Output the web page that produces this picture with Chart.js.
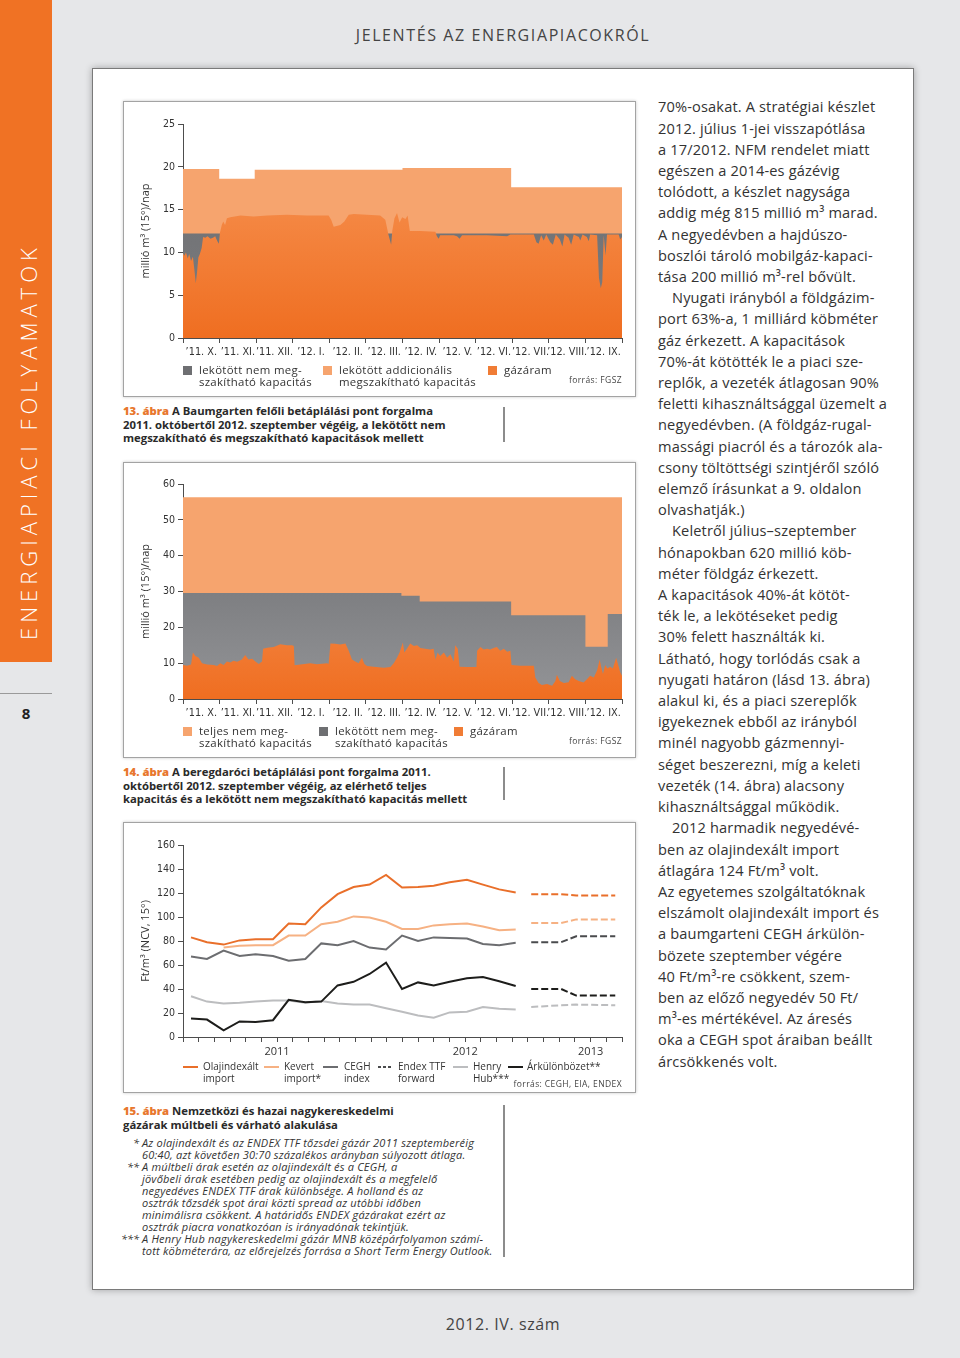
<!DOCTYPE html>
<html><head><meta charset="utf-8">
<script src="https://cdn.jsdelivr.net/npm/chart.js@4.4.1/dist/chart.umd.min.js"></script>
<style>
html,body{margin:0;padding:0;}
body{width:960px;height:1358px;position:relative;overflow:hidden;background:#e6e7e9;font-family:'Open Sans','Noto Sans',sans-serif;color:#333;}
.a{position:absolute;}
.box{position:absolute;box-sizing:border-box;border:1px solid #a3a3a3;background:#fff;box-shadow:0 0 3px rgba(0,0,0,.22);}
.lg{position:absolute;font-size:11.4px;letter-spacing:.3px;line-height:11.5px;color:#333;white-space:nowrap;}
.lg2{position:absolute;font-size:10px;line-height:11.5px;color:#333;white-space:nowrap;}
.sq{position:absolute;width:9px;height:9px;}
.src{position:absolute;font-size:8.5px;letter-spacing:.4px;color:#444;white-space:nowrap;text-align:right;}
.cap{position:absolute;left:123px;font-size:11.3px;font-weight:700;line-height:13.6px;color:#2a2a2a;white-space:nowrap;}
.cap b{color:#e8772e;}
.vl{position:absolute;left:503px;width:1.5px;background:#8c8c8c;}
.fn{position:absolute;left:142px;font-size:11px;letter-spacing:.2px;font-style:italic;line-height:11.9px;color:#333;white-space:nowrap;}
.mk{position:absolute;left:-40px;width:37px;text-align:right;letter-spacing:0;}
.col{position:absolute;left:658px;top:96.4px;font-size:14.6px;letter-spacing:.15px;line-height:21.2px;color:#333;white-space:nowrap;}
.col .i{padding-left:14px;}
.ln{position:absolute;height:2px;width:15px;}
canvas{position:absolute;}
</style></head>
<body>
<div class="a" style="left:0;top:0;width:52px;height:662px;background:#f07224;"></div>
<div class="a" style="left:0;top:662px;width:600px;height:56px;line-height:56px;padding-left:22px;box-sizing:border-box;transform-origin:0 0;transform:rotate(-90deg);color:#fff;font-size:22px;font-weight:300;letter-spacing:5px;white-space:nowrap;">ENERGIAPIACI FOLYAMATOK</div>
<div class="a" style="left:0;top:693px;width:52px;height:1px;background:#9a9a9a;"></div>
<div class="a" style="left:0;top:703px;width:52px;text-align:center;font-size:15px;font-weight:700;color:#222;">8</div>
<div class="a" style="left:92px;top:24px;width:822px;text-align:center;font-size:16px;letter-spacing:1.6px;color:#444;">JELENTÉS AZ ENERGIAPIACOKRÓL</div>
<div class="a" style="left:92px;top:1313px;width:822px;text-align:center;font-size:16px;letter-spacing:.6px;color:#444;">2012. IV. szám</div>

<div class="a" style="left:92px;top:68px;width:822px;height:1222px;box-sizing:border-box;background:#fff;border:1px solid #7a7a7a;box-shadow:0 0 7px rgba(0,0,0,.3);"></div>

<div class="box" style="left:123px;top:101px;width:513px;height:296px;"></div>
<div class="box" style="left:123px;top:462px;width:513px;height:296px;"></div>
<div class="box" style="left:123px;top:822px;width:513px;height:271px;"></div>

<canvas id="c13" width="513" height="265" style="left:123px;top:101px;width:513px;height:265px;"></canvas>
<canvas id="c14" width="513" height="265" style="left:123px;top:462px;width:513px;height:265px;"></canvas>
<canvas id="c15" width="513" height="243" style="left:123px;top:822px;width:513px;height:243px;"></canvas>

<!-- legend 13 -->
<div class="sq" style="left:183px;top:366px;background:#6e6f72;"></div>
<div class="lg" style="left:199px;top:364px;">lekötött nem meg-<br>szakítható kapacitás</div>
<div class="sq" style="left:323px;top:366px;background:#f6a46e;"></div>
<div class="lg" style="left:339px;top:364px;">lekötött addicionális<br>megszakítható kapacitás</div>
<div class="sq" style="left:488px;top:366px;background:#f07c35;"></div>
<div class="lg" style="left:504px;top:364px;">gázáram</div>
<div class="src" style="left:500px;width:122px;top:374px;">forrás: FGSZ</div>

<!-- legend 14 -->
<div class="sq" style="left:183px;top:727px;background:#f6a46e;"></div>
<div class="lg" style="left:199px;top:725px;">teljes nem meg-<br>szakítható kapacitás</div>
<div class="sq" style="left:319px;top:727px;background:#6e6f72;"></div>
<div class="lg" style="left:335px;top:725px;">lekötött nem meg-<br>szakítható kapacitás</div>
<div class="sq" style="left:454px;top:727px;background:#f07c35;"></div>
<div class="lg" style="left:470px;top:725px;">gázáram</div>
<div class="src" style="left:500px;width:122px;top:735px;">forrás: FGSZ</div>

<!-- legend 15 -->
<div class="ln" style="left:183px;top:1066px;background:#e96f2a;"></div>
<div class="lg2" style="left:203px;top:1061px;">Olajindexált<br>import</div>
<div class="ln" style="left:264px;top:1066px;background:#f6b183;"></div>
<div class="lg2" style="left:284px;top:1061px;">Kevert<br>import*</div>
<div class="ln" style="left:323px;top:1066px;background:#6c6d70;"></div>
<div class="lg2" style="left:344px;top:1061px;">CEGH<br>index</div>
<div class="ln" style="left:378px;top:1066px;background:repeating-linear-gradient(90deg,#4a4b4d 0 3px,transparent 3px 5px);"></div>
<div class="lg2" style="left:398px;top:1061px;">Endex TTF<br>forward</div>
<div class="ln" style="left:453px;top:1066px;background:#bcbdbf;"></div>
<div class="lg2" style="left:473px;top:1061px;">Henry<br>Hub***</div>
<div class="ln" style="left:508px;top:1066px;background:#1d1d1b;"></div>
<div class="lg2" style="left:527px;top:1061px;">Árkülönbözet**</div>
<div class="src" style="left:450px;width:172px;top:1078px;">forrás: CEGH, EIA, ENDEX</div>

<!-- captions -->
<div class="cap" style="top:404px;"><b>13. ábra</b> A Baumgarten felőli betáplálási pont forgalma<br>2011. októbertől 2012. szeptember végéig, a lekötött nem<br>megszakítható és megszakítható kapacitások mellett</div>
<div class="vl" style="top:407px;height:35px;"></div>
<div class="cap" style="top:765px;"><b>14. ábra</b> A beregdaróci betáplálási pont forgalma 2011.<br>októbertől 2012. szeptember végéig, az elérhető teljes<br>kapacitás és a lekötött nem megszakítható kapacitás mellett</div>
<div class="vl" style="top:767px;height:33px;"></div>
<div class="cap" style="top:1104px;"><b>15. ábra</b> Nemzetközi és hazai nagykereskedelmi<br>gázárak múltbeli és várható alakulása</div>
<div class="vl" style="top:1105px;height:152px;"></div>

<div class="fn" style="top:1137px;"><span class="mk">*</span>Az olajindexált és az ENDEX TTF tőzsdei gázár 2011 szeptemberéig<br>60:40, azt követően 30:70 százalékos arányban súlyozott átlaga.</div>
<div class="fn" style="top:1161px;"><span class="mk">**</span>A múltbeli árak esetén az olajindexált és a CEGH, a<br>jövőbeli árak esetében pedig az olajindexált és a megfelelő<br>negyedéves ENDEX TTF árak különbsége. A holland és az<br>osztrák tőzsdék spot árai közti spread az utóbbi időben<br>minimálisra csökkent. A határidős ENDEX gázárakat ezért az<br>osztrák piacra vonatkozóan is irányadónak tekintjük.</div>
<div class="fn" style="top:1233px;"><span class="mk">***</span>A Henry Hub nagykereskedelmi gázár MNB középárfolyamon számí-<br>tott köbméterára, az előrejelzés forrása a Short Term Energy Outlook.</div>

<div class="col">
<div>70%-osakat. A stratégiai készlet</div>
<div>2012. július 1-jei visszapótlása</div>
<div>a 17/2012. NFM rendelet miatt</div>
<div>egészen a 2014-es gázévig</div>
<div>tolódott, a készlet nagysága</div>
<div>addig még 815 millió m³ marad.</div>
<div>A negyedévben a hajdúszo-</div>
<div>boszlói tároló mobilgáz-kapaci-</div>
<div>tása 200 millió m³-rel bővült.</div>
<div class="i">Nyugati irányból a földgázim-</div>
<div>port 63%-a, 1 milliárd köbméter</div>
<div>gáz érkezett. A kapacitások</div>
<div>70%-át kötötték le a piaci sze-</div>
<div>replők, a vezeték átlagosan 90%</div>
<div>feletti kihasználtsággal üzemelt a</div>
<div>negyedévben. (A földgáz-rugal-</div>
<div>massági piacról és a tározók ala-</div>
<div>csony töltöttségi szintjéről szóló</div>
<div>elemző írásunkat a 9. oldalon</div>
<div>olvashatják.)</div>
<div class="i">Keletről július–szeptember</div>
<div>hónapokban 620 millió köb-</div>
<div>méter földgáz érkezett.</div>
<div>A kapacitások 40%-át kötöt-</div>
<div>ték le, a lekötéseket pedig</div>
<div>30% felett használták ki.</div>
<div>Látható, hogy torlódás csak a</div>
<div>nyugati határon (lásd 13. ábra)</div>
<div>alakul ki, és a piaci szereplők</div>
<div>igyekeznek ebből az irányból</div>
<div>minél nagyobb gázmennyi-</div>
<div>séget beszerezni, míg a keleti</div>
<div>vezeték (14. ábra) alacsony</div>
<div>kihasználtsággal működik.</div>
<div class="i">2012 harmadik negyedévé-</div>
<div>ben az olajindexált import</div>
<div>átlagára 124 Ft/m³ volt.</div>
<div>Az egyetemes szolgáltatóknak</div>
<div>elszámolt olajindexált import és</div>
<div>a baumgarteni CEGH árkülön-</div>
<div>bözete szeptember végére</div>
<div>40 Ft/m³-re csökkent, szem-</div>
<div>ben az előző negyedév 50 Ft/</div>
<div>m³-es mértékével. Az áresés</div>
<div>oka a CEGH spot áraiban beállt</div>
<div>árcsökkenés volt.</div>
</div>

<script>
// ---------- DATA ----------
const monthLabels = ["’11. X.","’11. XI.","’11. XII.","’12. I.","’12. II.","’12. III.","’12. IV.","’12. V.","’12. VI.","’12. VII.","’12. VIII.","’12. IX."];

// Chart 13 – Baumgarten (x in months from 2011-10-01)
const baumTotalX = [0, 0.99, 1.96, 6.0, 8.97, 12];
const baumTotalY = [19.75, 18.6, 19.65, 19.85, 17.6, 17.6];
const baumFirmX = [0, 12];
const baumFirmY = [12.2, 12.2];
const baumFlowX = [0,0.04,0.08,0.13,0.17,0.22,0.27,0.31,0.35,0.38,0.42,0.46,0.51,0.55,0.61,0.67,0.75,0.82,0.88,0.94,0.98,1.01,1.06,1.10,1.15,1.20,1.29,1.57,1.93,2.30,2.84,3.39,3.98,4.05,4.12,4.30,4.41,4.53,4.67,5.03,5.39,5.53,5.62,5.69,5.72,5.78,5.85,5.92,5.99,6.08,6.14,6.20,6.49,6.90,6.94,6.99,7.03,7.40,7.49,7.56,7.63,8.31,8.86,8.95,9.59,9.66,9.72,9.79,9.86,9.93,10.04,10.11,10.19,10.30,10.37,10.43,10.54,10.61,10.68,10.82,10.86,10.92,11.04,11.09,11.13,11.32,11.37,11.42,11.46,11.50,11.55,11.59,11.91,11.95,12];
const baumFlowY = [9.9,9.6,10.0,9.3,9.8,9.0,9.5,8.0,6.4,7.5,9.4,9.8,10.5,11.8,11.7,11.9,11.6,11.7,11.9,11.3,11.0,12.3,13.2,13.6,13.2,14.0,14.1,14.3,14.2,14.3,14.4,14.3,14.3,13.8,13.0,13.2,13.6,14.4,14.5,14.4,14.3,13.8,12.0,10.9,12.5,14.0,14.6,13.5,14.1,13.9,14.3,12.5,12.5,12.4,11.9,11.6,12.0,12.0,11.9,11.6,12.0,12.0,11.9,12.1,12.1,11.2,11.0,12.0,11.4,12.1,11.2,10.9,12.1,11.5,10.7,12.1,11.7,10.9,12.1,11.8,11.4,12.1,11.8,11.3,12.1,12.0,7.0,5.8,6.5,12.0,9.6,12.1,12.1,11.5,11.8];

// Chart 14 – Beregdaróc
const beregTotalX = [0, 12];
const beregTotalY = [56.3, 56.3];
const beregFirmX = [0, 5.97, 6.47, 8.97, 11.0, 11.61, 12];
const beregFirmY = [29.6, 28.8, 27.2, 23.4, 14.6, 23.7, 23.7];
const beregFlowX = [0,0.11,0.22,0.27,0.34,0.43,0.52,0.66,0.84,0.93,1.02,1.11,1.20,1.29,1.38,1.48,1.61,1.70,1.79,1.89,1.98,2.07,2.16,2.19,2.30,2.48,2.66,2.84,2.98,3.03,3.05,3.21,3.48,3.66,3.94,3.98,4.03,4.16,4.30,4.44,4.53,4.62,4.71,4.80,4.89,4.96,5.03,5.21,5.49,5.67,5.76,5.85,5.92,6.01,6.05,6.12,6.21,6.31,6.40,6.49,6.62,6.76,6.85,6.90,6.96,7.03,7.13,7.22,7.31,7.40,7.44,7.51,7.56,7.76,8.02,8.04,8.13,8.22,8.31,8.40,8.49,8.58,8.67,8.77,8.86,8.95,8.98,9.22,9.59,9.63,9.72,9.81,9.95,10.09,10.18,10.22,10.30,10.41,10.54,10.63,10.72,10.82,10.95,11.04,11.13,11.23,11.32,11.39,11.43,11.48,11.54,11.60,11.68,11.75,11.84,11.91,11.95,12];
const beregFlowY = [9.5,9.3,9.6,13.0,12.0,11.5,10.0,9.6,9.5,9.2,10.0,9.5,10.5,10.2,10.7,10.4,11.0,12.3,11.0,11.2,10.5,9.8,10.5,14.0,14.3,14.5,15.3,15.0,15.0,14.8,9.4,9.6,10.0,9.7,10.0,9.8,15.5,15.4,15.2,15.5,13.5,11.0,10.5,10.0,11.5,9.8,9.2,9.0,8.7,8.9,10.0,11.5,13.0,15.8,13.0,14.0,15.5,14.8,15.0,14.2,14.0,13.8,14.0,11.0,13.0,12.0,13.0,11.5,12.5,10.5,15.0,14.0,9.0,8.9,8.9,13.5,14.5,13.8,14.0,13.8,14.2,14.5,13.5,14.0,13.2,13.5,9.5,9.3,9.3,6.0,4.5,3.9,4.2,3.7,5.0,6.8,5.0,4.5,4.7,6.5,5.5,5.0,4.6,5.5,6.5,6.0,8.0,11.0,9.0,7.0,9.5,8.5,9.0,8.5,11.5,9.0,7.5,6.5];

// Chart 15 – prices (x in months on the time axis)
const yearTicks = {6: '2011', 18: '2012', 26: '2013'};
const histX = [0.51,1.53,2.59,3.61,4.63,5.74,6.74,7.80,8.82,9.86,10.88,11.90,12.95,13.97,14.99,15.99,17.01,18.11,19.13,20.17,21.22];
const olajHist   = [83,79,77,80.5,81.5,81.5,94.5,94,108,119,125,127,135,124.5,125,126,129,131,127,123,120.5];
const kevertHist = [null,null,74.5,76,76.5,76.5,84.5,84.5,94,96,100.5,99.5,96,90,90,93,94,94.5,92,89,89.5];
const ceghHist   = [67,65,72,67.5,69,67.5,63.5,65,78,76.5,80,74.5,73,84.5,80,83,82.5,82,77.5,76.5,78.5];
const henryHist  = [34,29.5,28,28.5,29.5,30.5,30.5,28.5,30,28,27,27,24,21,18,16,20.5,21,25,23.5,23];
const arkHist    = [15.5,14.5,5.5,13,12.5,14,31,29,29.5,43,46,52.5,62,40,45.5,43,46,49,50,46.5,42.5];
const fcX = [22.21, 24.12, 25.08, 27.57];
const olajFc   = [119, 119, 118, 118];
const kevertFc = [95, 95, 98, 98];
const endexFc  = [79, 79, 84, 84];
const henryFc  = [25, 26.5, 27, 26.5];
const arkFc    = [40, 40, 34.5, 34.5];

// ---------- RENDER ----------
const SANS = "'Open Sans','Noto Sans',sans-serif";
const NARROW = "'Liberation Sans Narrow','DejaVu Sans Condensed','Roboto',sans-serif";
const AX = '#4d4d4d';
Chart.defaults.font.family = SANS;

function zip(xs, ys){ const o=[]; for(let i=0;i<xs.length;i++){ if(ys[i]!==null) o.push({x:xs[i], y:ys[i]}); } return o; }
function vgrad(top, bottom){
  return (c) => { const ch=c.chart, a=ch.chartArea; if(!a) return top;
    const g=ch.ctx.createLinearGradient(0,a.top,0,a.bottom); g.addColorStop(0,top); g.addColorStop(1,bottom); return g; };
}
function yAxis(max, step, title){
  return {min:0,max:max,afterFit:s=>{s.width=60;},
    ticks:{stepSize:step,padding:3,color:'#333',font:{family:NARROW,size:10.5}},
    grid:{drawOnChartArea:false,tickLength:5,tickColor:AX},
    border:{color:AX,width:1},
    title:{display:true,text:title,color:'#333',font:{family:SANS,size:11},padding:{top:16,bottom:0}}};
}
function monthAxis(){
  return {type:'linear',min:0,max:12,afterFit:s=>{s.height=28;},
    ticks:{stepSize:0.5,autoSkip:false,maxRotation:0,minRotation:0,padding:3,color:'#333',font:{family:NARROW,size:10.8},
      callback:v=>Number.isInteger(v)?'':monthLabels[Math.floor(v)]},
    grid:{drawOnChartArea:false,tickLength:5,tickColor:c=>(c.tick&&Number.isInteger(c.tick.value))?AX:'rgba(0,0,0,0)'},
    border:{color:AX,width:1}};
}
const area = (label, data, bg, order, stepped) => ({label, data, fill:'origin', backgroundColor:bg, borderColor:'rgba(0,0,0,0)', borderWidth:0, pointRadius:0, tension:0, order, stepped: stepped ? 'before' : false});
const common = (top) => ({responsive:false, animation:false, layout:{padding:{left:0,right:14,top:top,bottom:0}}, plugins:{legend:{display:false},tooltip:{enabled:false}}});

new Chart(document.getElementById('c13'), {type:'line',
  data:{datasets:[
    area('gázáram', zip(baumFlowX, baumFlowY), vgrad('#f8995b','#ef6e21'), 1, false),
    area('lekötött nem megszakítható kapacitás', zip(baumFirmX, baumFirmY), vgrad('#6a6b6e','#7c7d80'), 2, true),
    area('lekötött addicionális megszakítható kapacitás', zip(baumTotalX, baumTotalY), '#f6a46e', 3, true)
  ]},
  options:Object.assign(common(23), {scales:{x:monthAxis(), y:yAxis(25,5,'millió m³ (15°)/nap')}})
});

new Chart(document.getElementById('c14'), {type:'line',
  data:{datasets:[
    area('gázáram', zip(beregFlowX, beregFlowY), vgrad('#f8a06a','#ef6e21'), 1, false),
    area('lekötött nem megszakítható kapacitás', zip(beregFirmX, beregFirmY), vgrad('#68696c','#939497'), 2, true),
    area('teljes nem megszakítható kapacitás', zip(beregTotalX, beregTotalY), '#f6a46e', 3, true)
  ]},
  options:Object.assign(common(22), {scales:{x:monthAxis(), y:yAxis(60,10,'millió m³ (15°)/nap')}})
});

const ln = (label, xs, ys, color, dashed, order) => ({label, data:zip(xs, ys), borderColor:color, backgroundColor:color, borderWidth:2, pointRadius:0, tension:0, fill:false, borderDash: dashed ? [7,3] : [], order});
new Chart(document.getElementById('c15'), {type:'line',
  data:{datasets:[
    ln('Árkülönbözet**', histX, arkHist, '#1d1d1b', false, 0),
    ln('Árkülönbözet** (előrejelzés)', fcX, arkFc, '#1d1d1b', true, 0),
    ln('Olajindexált import', histX, olajHist, '#e96f2a', false, 1),
    ln('Olajindexált import (előrejelzés)', fcX, olajFc, '#e96f2a', true, 1),
    ln('Kevert import*', histX, kevertHist, '#f6b183', false, 1),
    ln('Kevert import* (előrejelzés)', fcX, kevertFc, '#f6b183', true, 1),
    ln('CEGH index', histX, ceghHist, '#6c6d70', false, 1),
    ln('Endex TTF forward', fcX, endexFc, '#4a4b4d', true, 1),
    ln('Henry Hub***', histX, henryHist, '#bcbdbf', false, 2),
    ln('Henry Hub*** (előrejelzés)', fcX, henryFc, '#bcbdbf', true, 2)
  ]},
  options:Object.assign(common(23), {scales:{
    x:{type:'linear',min:0,max:28,afterFit:s=>{s.height=28;},
      ticks:{stepSize:1,autoSkip:false,maxRotation:0,minRotation:0,padding:3,color:'#333',font:{family:SANS,size:11},
        callback:v=>yearTicks[v]||''},
      grid:{drawOnChartArea:false,tickLength:5,tickColor:AX},
      border:{color:AX,width:1}},
    y:yAxis(160,20,'Ft/m³ (NCV, 15°)')
  }})
});
</script>
</body></html>
